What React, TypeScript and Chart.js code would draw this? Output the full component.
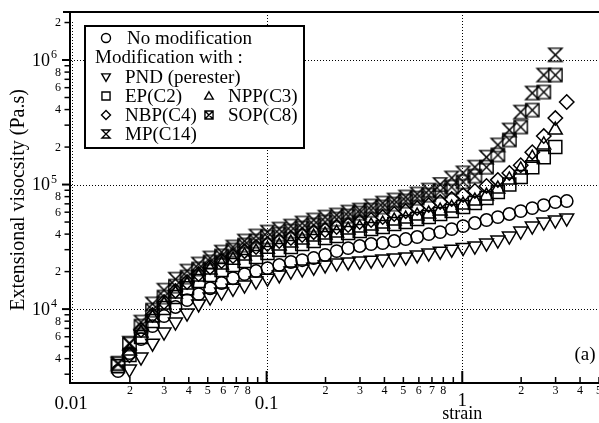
import React, { useEffect, useRef } from 'react';
import { Chart, registerables } from 'chart.js';

Chart.register(...registerables);

// ---------------- data ----------------
const strain = [
  0.0174, 0.0199, 0.0228, 0.0261, 0.0299, 0.0342, 0.0392, 0.0449, 0.0514, 0.0588,
  0.0673, 0.0771, 0.0883, 0.101, 0.116, 0.133, 0.152, 0.174, 0.199, 0.228,
  0.261, 0.299, 0.342, 0.392, 0.449, 0.514, 0.588, 0.674, 0.771, 0.883,
  1.01, 1.16, 1.33, 1.52, 1.74, 1.99, 2.28, 2.61, 2.99, 3.42,
];

const noModification = [
  3.18e3, 4.43e3, 5.74e3, 7.3e3, 8.79e3, 1.04e4, 1.18e4, 1.32e4, 1.47e4, 1.62e4,
  1.77e4, 1.91e4, 2.02e4, 2.13e4, 2.26e4, 2.39e4, 2.47e4, 2.57e4, 2.72e4, 2.92e4,
  3.09e4, 3.21e4, 3.33e4, 3.39e4, 3.52e4, 3.65e4, 3.79e4, 4.0e4, 4.15e4, 4.39e4,
  4.64e4, 4.91e4, 5.19e4, 5.48e4, 5.8e4, 6.12e4, 6.47e4, 6.84e4, 7.23e4, 7.37e4,
];

const pnd = [
  null, 3.3e3, 4.12e3, 5.33e3, 6.54e3, 7.86e3, 9.29e3, 1.1e4, 1.25e4, 1.37e4,
  1.47e4, 1.56e4, 1.68e4, 1.77e4, 1.88e4, 2.02e4, 2.1e4, 2.17e4, 2.26e4, 2.34e4,
  2.39e4, 2.43e4, 2.47e4, 2.52e4, 2.57e4, 2.62e4, 2.72e4, 2.82e4, 2.92e4, 3.03e4,
  3.12e4, 3.21e4, 3.39e4, 3.58e4, 3.86e4, 4.23e4, 4.64e4, 5.0e4, 5.19e4, 5.38e4,
];

const ep = [
  3.48e3, 4.27e3, 5.96e3, 8.01e3, 1.02e4, 1.25e4, 1.47e4, 1.68e4, 1.88e4, 2.06e4,
  2.26e4, 2.43e4, 2.62e4, 2.82e4, 2.98e4, 3.15e4, 3.33e4, 3.52e4, 3.72e4, 3.86e4,
  4.08e4, 4.23e4, 4.39e4, 4.56e4, 4.82e4, 5.0e4, 5.28e4, 5.48e4, 5.8e4, 6.12e4,
  6.6e4, 7.1e4, 7.79e4, 8.71e4, 1.0e5, 1.15e5, 1.38e5, 1.66e5, 2.0e5, null,
];

const npp = [
  null, 4.6e3, 6.42e3, 8.47e3, 1.08e4, 1.32e4, 1.56e4, 1.81e4, 2.06e4, 2.26e4,
  2.47e4, 2.67e4, 2.87e4, 3.03e4, 3.21e4, 3.39e4, 3.58e4, 3.79e4, 3.93e4, 4.08e4,
  4.31e4, 4.47e4, 4.64e4, 4.82e4, 5.09e4, 5.28e4, 5.58e4, 5.8e4, 6.12e4, 6.47e4,
  6.84e4, 7.37e4, 8.08e4, 9.2e4, 1.09e5, 1.31e5, 1.63e5, 2.08e5, 2.74e5, null,
];

const nbp = [
  null, 4.27e3, 6.78e3, 8.95e3, 1.14e4, 1.4e4, 1.65e4, 1.91e4, 2.17e4, 2.43e4,
  2.67e4, 2.92e4, 3.15e4, 3.33e4, 3.52e4, 3.72e4, 3.93e4, 4.15e4, 4.31e4, 4.56e4,
  4.73e4, 5.0e4, 5.19e4, 5.48e4, 5.8e4, 6.12e4, 6.47e4, 6.84e4, 7.23e4, 7.65e4,
  8.23e4, 8.87e4, 9.73e4, 1.09e5, 1.24e5, 1.43e5, 1.82e5, 2.45e5, 3.42e5, 4.6e5,
];

const sop = [
  3.68e3, 5.24e3, 7.3e3, 9.82e3, 1.25e4, 1.53e4, 1.81e4, 2.1e4, 2.39e4, 2.67e4,
  2.98e4, 3.27e4, 3.52e4, 3.79e4, 4.0e4, 4.23e4, 4.47e4, 4.73e4, 5.0e4, 5.28e4,
  5.58e4, 5.9e4, 6.24e4, 6.6e4, 6.97e4, 7.37e4, 7.79e4, 8.23e4, 8.87e4, 9.55e4,
  1.05e5, 1.17e5, 1.38e5, 1.73e5, 2.28e5, 2.9e5, 3.96e5, 5.53e5, 7.58e5, null,
];

const mp = [
  3.62e3, 5.33e3, 7.86e3, 1.1e4, 1.42e4, 1.74e4, 2.02e4, 2.3e4, 2.57e4, 2.87e4,
  3.15e4, 3.52e4, 3.86e4, 4.15e4, 4.39e4, 4.64e4, 4.91e4, 5.19e4, 5.48e4, 5.69e4,
  6.01e4, 6.24e4, 6.72e4, 7.1e4, 7.51e4, 7.94e4, 8.39e4, 9.03e4, 1.0e5, 1.13e5,
  1.24e5, 1.38e5, 1.66e5, 2.08e5, 2.74e5, 3.82e5, 5.43e5, 7.58e5, 1.1e6, null,
];

// ---------------- axes / ticks ----------------
const xMin = 0.01;
const xMax = 5;
const yMin = 2550;
const yMax = 2430000;

const xMajorTicks = [0.01, 0.1, 1];
const xMajorLabels = ['0.01', '0.1', '1'];
const xMinorTicks = [
  0.02, 0.03, 0.04, 0.05, 0.06, 0.07, 0.08, 0.09,
  0.2, 0.3, 0.4, 0.5, 0.6, 0.7, 0.8, 0.9,
  2, 3, 4, 5,
];
const xMinorLabels = [
  '2', '3', '4', '5', '6', '7', '8', '',
  '2', '3', '4', '5', '6', '7', '8', '',
  '2', '3', '4', '5',
];
const xTitle = 'strain';

const yMajorTicks = [1e4, 1e5, 1e6];
const yMajorExponents = ['4', '5', '6'];
const yMinorTicks = [
  3e3, 4e3, 5e3, 6e3, 7e3, 8e3, 9e3,
  2e4, 3e4, 4e4, 5e4, 6e4, 7e4, 8e4, 9e4,
  2e5, 3e5, 4e5, 5e5, 6e5, 7e5, 8e5, 9e5,
  2e6,
];
const yMinorLabels = [
  '', '4', '', '6', '', '8', '',
  '2', '', '4', '', '6', '', '8', '',
  '2', '', '4', '', '6', '', '8', '',
  '2',
];
const yTitle = 'Extensional visocsity (Pa.s)';

const gridX = [0.1, 1];
const gridY = [1e4, 1e5, 1e6];

const legendTitle = 'Modification with :';
const panelLabel = '(a)';

const SERIF = '"Liberation Serif", "Times New Roman", Times, serif';

type Kind = 'circle' | 'triDown' | 'square' | 'triUp' | 'diamond' | 'crossSquare' | 'hourglass';

function drawMarker(ctx: CanvasRenderingContext2D, kind: Kind, x: number, y: number, r: number) {
  ctx.beginPath();
  switch (kind) {
    case 'circle':
      ctx.arc(x, y, r, 0, Math.PI * 2);
      break;
    case 'triDown':
      ctx.moveTo(x - 0.95 * r, y - 0.7 * r);
      ctx.lineTo(x + 0.95 * r, y - 0.7 * r);
      ctx.lineTo(x, y + 0.95 * r);
      ctx.closePath();
      break;
    case 'triUp':
      ctx.moveTo(x, y - 0.95 * r);
      ctx.lineTo(x + 0.95 * r, y + 0.7 * r);
      ctx.lineTo(x - 0.95 * r, y + 0.7 * r);
      ctx.closePath();
      break;
    case 'square':
      ctx.rect(x - 0.9 * r, y - 0.9 * r, 1.8 * r, 1.8 * r);
      break;
    case 'diamond':
      ctx.moveTo(x, y - r);
      ctx.lineTo(x + r, y);
      ctx.lineTo(x, y + r);
      ctx.lineTo(x - r, y);
      ctx.closePath();
      break;
    case 'crossSquare': {
      const s = 0.9 * r;
      ctx.rect(x - s, y - s, 2 * s, 2 * s);
      ctx.moveTo(x - s, y - s);
      ctx.lineTo(x + s, y + s);
      ctx.moveTo(x + s, y - s);
      ctx.lineTo(x - s, y + s);
      break;
    }
    case 'hourglass': {
      const s = 0.9 * r;
      ctx.moveTo(x - s, y - s);
      ctx.lineTo(x + s, y - s);
      ctx.lineTo(x - s, y + s);
      ctx.lineTo(x + s, y + s);
      ctx.closePath();
      break;
    }
  }
  ctx.stroke();
}

function makeMarkerImage(kind: Kind, r: number): HTMLCanvasElement {
  const c = document.createElement('canvas');
  const size = Math.ceil(2 * r + 4);
  c.width = size;
  c.height = size;
  const g = c.getContext('2d')!;
  g.strokeStyle = '#000';
  g.lineWidth = 1.4;
  drawMarker(g, kind, size / 2, size / 2, r);
  return c;
}

function toPoints(values: (number | null)[]) {
  const pts: { x: number; y: number }[] = [];
  values.forEach((v, i) => {
    if (v != null) pts.push({ x: strain[i], y: v });
  });
  return pts;
}

const framePlugin = {
  id: 'frame',
  beforeDraw(chart: any) {
    const ctx = chart.ctx as CanvasRenderingContext2D;
    ctx.save();
    ctx.fillStyle = '#fff';
    ctx.fillRect(0, 0, chart.width, chart.height);
    ctx.restore();
  },
  beforeDatasetsDraw(chart: any) {
    const ctx = chart.ctx as CanvasRenderingContext2D;
    const { left, right, top, bottom } = chart.chartArea;
    const xs = chart.scales.x;
    const ys = chart.scales.y;
    ctx.save();
    ctx.strokeStyle = '#000';
    ctx.lineWidth = 1;
    ctx.setLineDash([1, 2]);
    // dotted line hugging the y axis (0.01)
    ctx.beginPath();
    ctx.moveTo(xs.getPixelForValue(0.01) + 1.5, top + 10);
    ctx.lineTo(xs.getPixelForValue(0.01) + 1.5, bottom);
    ctx.stroke();
    gridX.forEach((v) => {
      const x = Math.round(xs.getPixelForValue(v)) + 0.5;
      ctx.beginPath();
      ctx.moveTo(x, top);
      ctx.lineTo(x, bottom);
      ctx.stroke();
    });
    gridY.forEach((v) => {
      const y = Math.round(ys.getPixelForValue(v)) + 0.5;
      ctx.beginPath();
      ctx.moveTo(left, y);
      ctx.lineTo(right, y);
      ctx.stroke();
    });
    ctx.restore();
  },
  afterDatasetsDraw(chart: any) {
    const ctx = chart.ctx as CanvasRenderingContext2D;
    const { left, right, top, bottom } = chart.chartArea;
    const xs = chart.scales.x;
    const ys = chart.scales.y;
    ctx.save();
    ctx.strokeStyle = '#000';
    ctx.fillStyle = '#000';
    ctx.setLineDash([]);

    // axis lines
    ctx.lineWidth = 2;
    ctx.beginPath();
    ctx.moveTo(left - 1, top);
    ctx.lineTo(left - 1, bottom + 1);
    ctx.moveTo(left - 2, bottom);
    ctx.lineTo(right, bottom);
    ctx.moveTo(left - 8, top);
    ctx.lineTo(right, top);
    ctx.stroke();

    // y ticks
    ctx.lineWidth = 2;
    yMajorTicks.forEach((v) => {
      const y = ys.getPixelForValue(v);
      ctx.beginPath();
      ctx.moveTo(left - 9, y);
      ctx.lineTo(left - 1, y);
      ctx.stroke();
    });
    ctx.lineWidth = 1.5;
    yMinorTicks.forEach((v) => {
      const y = ys.getPixelForValue(v);
      ctx.beginPath();
      ctx.moveTo(left - 6.5, y);
      ctx.lineTo(left - 1, y);
      ctx.stroke();
    });

    // x ticks (inside)
    ctx.lineWidth = 2;
    xMajorTicks.forEach((v) => {
      const x = xs.getPixelForValue(v);
      if (v === xMin) return;
      ctx.beginPath();
      ctx.moveTo(x, bottom);
      ctx.lineTo(x, bottom - 12);
      ctx.stroke();
    });
    ctx.lineWidth = 1.5;
    xMinorTicks.forEach((v) => {
      const x = xs.getPixelForValue(v);
      ctx.beginPath();
      ctx.moveTo(x, bottom);
      ctx.lineTo(x, bottom - 6);
      ctx.stroke();
    });

    // y labels
    ctx.textBaseline = 'middle';
    ctx.textAlign = 'right';
    ctx.font = `12px ${SERIF}`;
    yMinorTicks.forEach((v, i) => {
      if (!yMinorLabels[i]) return;
      ctx.fillText(yMinorLabels[i], left - 10, ys.getPixelForValue(v) + 0.5);
    });
    yMajorTicks.forEach((v, i) => {
      const y = ys.getPixelForValue(v);
      ctx.font = `18px ${SERIF}`;
      ctx.textAlign = 'right';
      ctx.fillText('10', left - 21, y + 1);
      ctx.font = `12px ${SERIF}`;
      ctx.textAlign = 'left';
      ctx.fillText(yMajorExponents[i], left - 20, y - 5);
    });

    // x labels
    ctx.textAlign = 'center';
    ctx.font = `12px ${SERIF}`;
    xMinorTicks.forEach((v, i) => {
      if (!xMinorLabels[i]) return;
      ctx.fillText(xMinorLabels[i], xs.getPixelForValue(v), bottom + 8);
    });
    ctx.font = `19px ${SERIF}`;
    xMajorTicks.forEach((v, i) => {
      const dy = v === 1 ? 18 : 21;
      ctx.fillText(xMajorLabels[i], xs.getPixelForValue(v), bottom + dy);
    });
    ctx.font = `18px ${SERIF}`;
    ctx.fillText(xTitle, xs.getPixelForValue(1), bottom + 31);

    // y title
    ctx.save();
    ctx.translate(19, 200);
    ctx.rotate(-Math.PI / 2);
    ctx.font = `20px ${SERIF}`;
    ctx.textAlign = 'center';
    ctx.fillText(yTitle, 0, 0);
    ctx.restore();

    // panel label
    ctx.font = `19px ${SERIF}`;
    ctx.textAlign = 'center';
    ctx.fillText(panelLabel, 585, 355);

    // legend box
    ctx.lineWidth = 2;
    ctx.fillStyle = '#fff';
    ctx.fillRect(85, 26, 219, 122);
    ctx.strokeRect(85, 26, 219, 122);
    ctx.fillStyle = '#000';
    ctx.strokeStyle = '#000';
    ctx.lineWidth = 1.4;
    ctx.font = `19px ${SERIF}`;
    ctx.textAlign = 'left';
    ctx.textBaseline = 'middle';
    const ds = chart.data.datasets;
    const entries: { i: number; mx: number; tx: number; y: number }[] = [
      { i: 0, mx: 106, tx: 127, y: 38 },
      { i: 1, mx: 106, tx: 125, y: 77 },
      { i: 2, mx: 106, tx: 125, y: 96 },
      { i: 3, mx: 209, tx: 228, y: 96 },
      { i: 4, mx: 106, tx: 125, y: 115 },
      { i: 5, mx: 209, tx: 228, y: 115 },
      { i: 6, mx: 106, tx: 125, y: 134 },
    ];
    entries.forEach((e) => {
      drawMarker(ctx, ds[e.i].markerKind as Kind, e.mx, e.y, 4.5);
      ctx.fillText(ds[e.i].label, e.tx, e.y + 1);
    });
    ctx.fillText(legendTitle, 95, 58);

    ctx.restore();
  },
};

export default function App() {
  const canvasRef = useRef<HTMLCanvasElement | null>(null);

  useEffect(() => {
    if (!canvasRef.current) return;
    const sopImg = makeMarkerImage('crossSquare', 7.4);
    const mpImg = makeMarkerImage('hourglass', 7.4);
    const common = {
      showLine: false,
      borderColor: '#000',
      backgroundColor: 'rgba(0,0,0,0)',
      pointBorderWidth: 1.5,
    };
    const chart = new Chart(canvasRef.current, {
      type: 'scatter',
      data: {
        datasets: [
          { ...common, label: 'No modification', markerKind: 'circle', data: toPoints(noModification), pointStyle: 'circle', pointRadius: 6.2 },
          { ...common, label: 'PND (perester)', markerKind: 'triDown', data: toPoints(pnd), pointStyle: 'triangle', pointRotation: 180, pointRadius: 8 },
          { ...common, label: 'EP(C2)', markerKind: 'square', data: toPoints(ep), pointStyle: 'rect', pointRadius: 9.2 },
          { ...common, label: 'NPP(C3)', markerKind: 'triUp', data: toPoints(npp), pointStyle: 'triangle', pointRadius: 8 },
          { ...common, label: 'NBP(C4)', markerKind: 'diamond', data: toPoints(nbp), pointStyle: 'rectRot', pointRadius: 7.2 },
          { ...common, label: 'SOP(C8)', markerKind: 'crossSquare', data: toPoints(sop), pointStyle: sopImg, pointRadius: 7.4 },
          { ...common, label: 'MP(C14)', markerKind: 'hourglass', data: toPoints(mp), pointStyle: mpImg, pointRadius: 7.4 },
        ] as any,
      },
      options: {
        animation: false,
        responsive: false,
        events: [],
        layout: { autoPadding: false, padding: { left: 71, top: 12, right: 0, bottom: 40 } },
        scales: {
          x: { type: 'logarithmic', min: xMin, max: xMax, display: false },
          y: { type: 'logarithmic', min: yMin, max: yMax, display: false },
        },
        plugins: {
          legend: { display: false },
          tooltip: { enabled: false },
        },
      },
      plugins: [framePlugin],
    });
    return () => chart.destroy();
  }, []);

  return (
    <div style={{ position: 'absolute', left: 0, top: 0, width: 599, height: 423, background: '#fff' }}>
      <canvas ref={canvasRef} width={599} height={423} style={{ display: 'block' }} />
    </div>
  );
}
